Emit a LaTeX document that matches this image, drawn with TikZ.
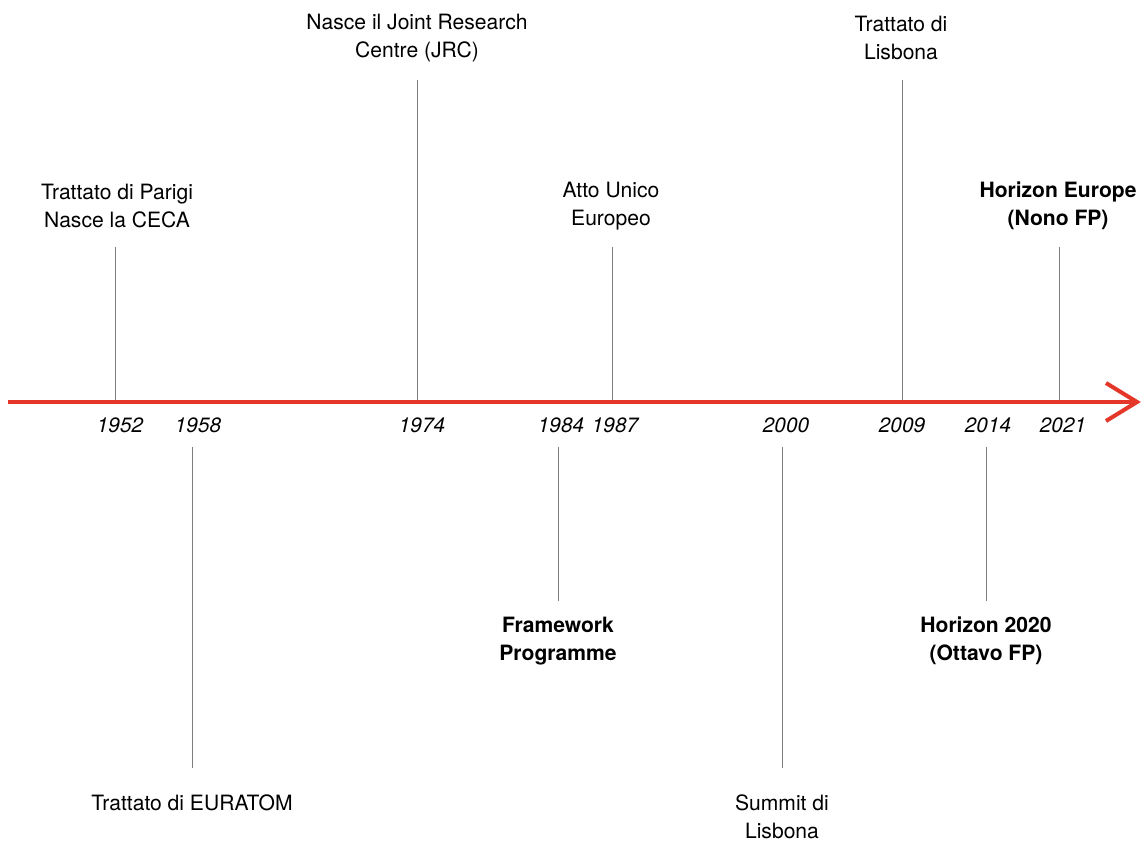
\documentclass[tikz,border=0pt]{standalone}
\usepackage{fontspec}
\setmainfont{TeX Gyre Heros}
\definecolor{axisred}{RGB}{228,55,42}
\definecolor{tickgray}{RGB}{125,125,125}

\begin{document}
\begin{tikzpicture}[x=0.02cm, y=-0.02cm,
    event/.style={align=center, inner sep=0pt, font=\fontsize{12}{15.9}\selectfont},
    keyevent/.style={event, font=\fontsize{12}{15.9}\selectfont\bfseries},
    year/.style={inner sep=0pt, font=\fontsize{11.8}{14}\selectfont\itshape},
    tick/.style={draw=tickgray, line width=0.55pt}]

    % Fix the frame of the picture
    \useasboundingbox (0,0) rectangle (1146,841);

    % Define the ends of the time axis
    \coordinate (start) at (8,402);
    \coordinate (end) at (1137,402);
    \coordinate (barbU) at (1106,383);
    \coordinate (barbD) at (1106,421);

    % Points on the axis for each year
    \coordinate (a1952) at (115,402);
    \coordinate (a1958) at (192,402);
    \coordinate (a1974) at (417,402);
    \coordinate (a1984) at (558,402);
    \coordinate (a1987) at (612,402);
    \coordinate (a2000) at (782,402);
    \coordinate (a2009) at (902,402);
    \coordinate (a2014) at (986,402);
    \coordinate (a2021) at (1059,402);

    % Free ends of the ticks
    % ticks above the axis start on it
    \coordinate (e1952) at (115,247);
    \coordinate (e1974) at (417,80);
    \coordinate (e1987) at (612,247);
    \coordinate (e2009) at (902,80);
    \coordinate (e2021) at (1059,247);
    % ticks below the axis start under the years
    \coordinate (b1958) at (192,447);
    \coordinate (e1958) at (192,768);
    \coordinate (b1984) at (558,447);
    \coordinate (e1984) at (558,601);
    \coordinate (b2000) at (782,447);
    \coordinate (e2000) at (782,768);
    \coordinate (b2014) at (986,447);
    \coordinate (e2014) at (986,601);

    % Draw the ticks
    \draw[tick] (a1952) -- (e1952);
    \draw[tick] (a1974) -- (e1974);
    \draw[tick] (a1987) -- (e1987);
    \draw[tick] (a2009) -- (e2009);
    \draw[tick] (a2021) -- (e2021);
    \draw[tick] (b1958) -- (e1958);
    \draw[tick] (b1984) -- (e1984);
    \draw[tick] (b2000) -- (e2000);
    \draw[tick] (b2014) -- (e2014);

    % Draw the time axis with its open head
    \draw[axisred, line width=2.3pt] (start) -- (end);
    \draw[axisred, line width=2.3pt, line join=miter] (barbU) -- (end) -- (barbD);

    % Year labels
    \node[year] (y1952) at (120,425) {1952};
    \node[year] (y1958) at (198,425) {1958};
    \node[year] (y1974) at (422,425) {1974};
    \node[year] (y1984) at (561,425) {1984};
    \node[year] (y1987) at (615,425) {1987};
    \node[year] (y2000) at (786,425) {2000};
    \node[year] (y2009) at (902,425) {2009};
    \node[year] (y2014) at (988,425) {2014};
    \node[year] (y2021) at (1063,425) {2021};

    % Events above the axis
    \node[event] (parigi) at (117,206) {Trattato di Parigi\\Nasce la CECA};
    \node[event] (jrc) at (417,38) {Nasce il Joint Research\\Centre (JRC)};
    \node[event] (atto) at (611,206) {Atto Unico\\Europeo};
    \node[event] (lisbona) at (901,38) {Trattato di\\Lisbona};
    \node[keyevent] (europe) at (1058,206) {Horizon Europe\\(Nono FP)};

    % Events below the axis
    \node[event] (euratom) at (192,803) {Trattato di EURATOM};
    \node[keyevent] (framework) at (558,641) {Framework\\Programme};
    \node[event] (summit) at (782,817) {Summit di\\Lisbona};
    \node[keyevent] (h2020) at (986,641) {Horizon 2020\\(Ottavo FP)};

\end{tikzpicture}
\end{document}
